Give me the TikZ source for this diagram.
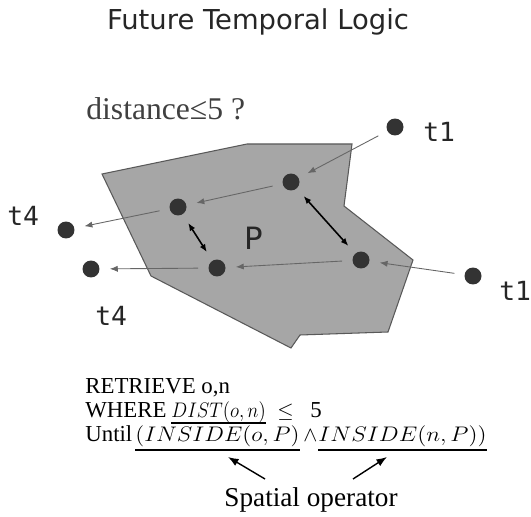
\documentclass[tikz,border=0pt]{standalone}
\usepackage{fontspec}
\setmainfont{Liberation Serif}
\newfontfamily\titlefont{DejaVu Sans}
\newfontfamily\tagfont{DejaVu Sans Mono}
\usetikzlibrary{arrows.meta}

\begin{document}
\begin{tikzpicture}[
    x=0.02cm, y=-0.02cm,
    every node/.style={inner sep=0pt},
    region/.style={draw=black!65, fill=black!35, line width=0.6pt},
    obj/.style={circle, fill=black!80, minimum size=0.34cm},
    tag/.style={anchor=base west, font=\tagfont\fontsize{15}{18}\selectfont, text=black!85},
    move/.style={-{Latex[length=4.5pt,width=3.5pt]}, black!60, line width=0.5pt, shorten <=0.2cm, shorten >=0.2cm},
    near/.style={{Latex[length=4.5pt,width=3.5pt]}-{Latex[length=4.5pt,width=3.5pt]}, black, line width=0.9pt, shorten <=0.2cm, shorten >=0.2cm},
    query/.style={anchor=base west, font=\fontsize{13}{15}\selectfont},
    uline/.style={line width=1.1pt}
]
    \useasboundingbox (0,0) rectangle (531,517);

    % Title
    \node[font=\titlefont\fontsize{15.6}{18}\selectfont, text=black!85, anchor=base] (title) at (258,30) {Future Temporal Logic};
    \node[anchor=base west, font=\fontsize{18}{20}\selectfont, text=black!75] (dist) at (86,120) {distance≤5 ?};

    % Region P
    \draw[region] (102,174) -- (247,144) -- (352,144) -- (344,206) -- (413,260) -- (388,332) -- (300,335) -- (291,348) -- (151,276) -- cycle;
    \node[font=\titlefont\fontsize{17.5}{20}\selectfont, text=black!85] (P) at (254,238) {P};

    % Objects
    \node[obj] (A) at (291,182) {};
    \node[obj] (B) at (178,207) {};
    \node[obj] (C) at (217,268) {};
    \node[obj] (D) at (361,260) {};
    \node[obj] (t1a) at (395,127) {};
    \node[obj] (t1b) at (473,276) {};
    \node[obj] (t4a) at (66,230) {};
    \node[obj] (t4b) at (91,269) {};

    % Time labels
    \node[tag] (lt1a) at (423,142) {t1};
    \node[tag] (lt1b) at (499,300) {t1};
    \node[tag] (lt4a) at (7,225) {t4};
    \node[tag] (lt4b) at (95,325) {t4};

    % Movements
    \foreach \i/\j in {t1a/A, A/B, B/t4a, t1b/D, D/C, C/t4b} {
        \draw[move] (\i) -- (\j);
    }
    \foreach \i/\j in {A/D, B/C} {
        \draw[near] (\i) -- (\j);
    }

    % Query
    \node[query] (q1) at (85,393) {RETRIEVE o,n};
    \node[query] (q2) at (85,417) {WHERE};
    \node[query] (qdist) at (171,417) {\scalebox{0.9}[1]{$DIST(o,n)$}};
    \node[query] (qle) at (277,417) {$\leq$};
    \node[query] (qfive) at (310,417) {5};
    \node[query] (q3) at (85,441) {Until};
    \node[query] (qin1) at (135,441) {\scalebox{1.11}[1]{$(INSIDE(o,P)$}};
    \node[query] (qand) at (303,441) {$\wedge$};
    \node[query] (qin2) at (318,441) {\scalebox{1.12}[1]{$INSIDE(n,P))$}};
    \draw[uline] (qdist.south west) -- (qdist.south east);
    \foreach \k in {qin1, qin2} {
        \draw[uline] ([yshift=-2pt]\k.south west) -- ([yshift=-2pt]\k.south east);
    }

    % Spatial operator
    \node[anchor=base, font=\fontsize{15.5}{18}\selectfont] (op) at (311,506) {Spatial operator};
    \coordinate (ul1) at (228,457);
    \coordinate (ul2) at (387,457);
    \coordinate (sp1) at (265,479);
    \coordinate (sp2) at (353,479);
    \draw[-{Latex[length=6pt,width=4.5pt]}, line width=0.8pt] (sp1) -- (ul1);
    \draw[-{Latex[length=6pt,width=4.5pt]}, line width=0.8pt] (sp2) -- (ul2);
\end{tikzpicture}
\end{document}
